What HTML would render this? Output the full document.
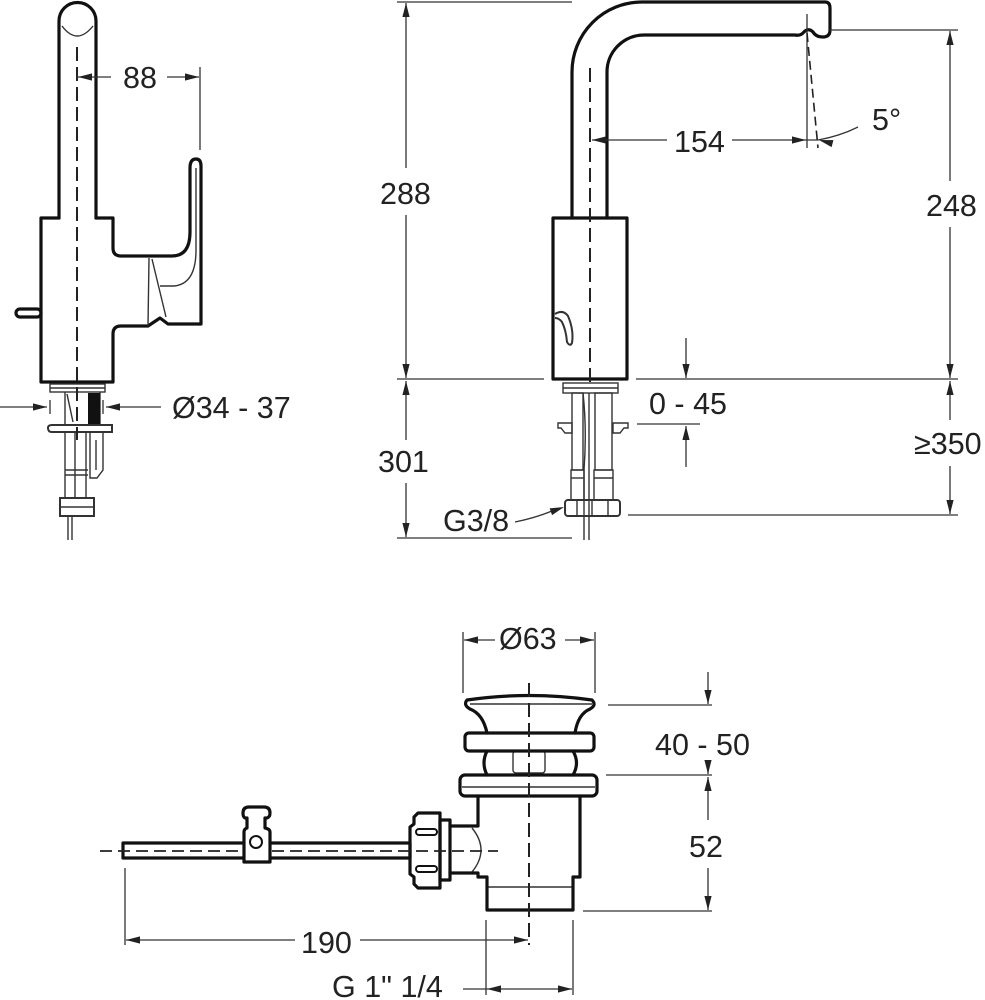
<!DOCTYPE html>
<html><head><meta charset="utf-8"><style>
html,body{margin:0;padding:0;background:#fff;}
svg{display:block;}
text{font-family:"Liberation Sans",Arial,sans-serif;font-size:30.5px;fill:#222;}
</style></head><body>
<svg width="985" height="1000" viewBox="0 0 985 1000" xmlns="http://www.w3.org/2000/svg" xmlns:xlink="http://www.w3.org/1999/xlink">
<defs>
<path id="ah" d="M0,0 L-14,-3.6 L-14,3.6 Z" fill="#222" stroke="none"/>
</defs>

<!-- ============ LEFT VIEW ============ -->
<g fill="none" stroke="#111" stroke-width="3.2" stroke-linejoin="round" stroke-linecap="round">
 <path d="M59,218 V21 A18.5,18.5 0 0 1 96,21 V218"/>
 <path d="M96,218 H113 V248 Q113,256 121,256 H172 Q190,256 190,232 V168 Q190,159 196,159 Q201,159 201,166 V324 H168 L160,318 L148,326 H121 Q113,326 113,334 V382 H41 V218 H59"/>
 <rect x="16" y="309" width="25" height="8" rx="4"/>
</g>
<g fill="none" stroke="#333" stroke-width="1.4">
 <path d="M62,26 Q77,46 93,26"/>
 <path d="M149,258 L148,326"/>
 <path d="M152,259 L166,317"/>
 <path d="M160,286 H174 Q196,284 196,250 V168"/>
 <rect x="50" y="384" width="55" height="8"/>
 <line x1="50" y1="388" x2="105" y2="388"/>
 <line x1="65" y1="392" x2="65" y2="425"/>
 <line x1="100" y1="392" x2="100" y2="425"/>
 <path d="M67,394 L73,422"/>
 <path d="M52,425 H112 V432 H52 Q48,432 48,428 Q48,425 52,425" stroke-width="2"/>
 <line x1="65" y1="432" x2="65" y2="498"/>
 <line x1="75" y1="432" x2="75" y2="498"/>
 <line x1="86" y1="432" x2="86" y2="498"/>
 <line x1="65" y1="470" x2="88" y2="470"/>
 <line x1="65" y1="475" x2="88" y2="475"/>
 <path d="M90,433 V478 H97 L103,470 V433 M96,440 V470"/>
 <rect x="60" y="498" width="34" height="18" stroke-width="2"/>
 <line x1="60" y1="507" x2="94" y2="507"/>
 <line x1="68" y1="516" x2="68" y2="540"/>
 <line x1="72" y1="516" x2="72" y2="540"/>
</g>
<rect x="88" y="393" width="12" height="31" fill="#111"/>
<line x1="77" y1="47" x2="77" y2="440" stroke="#222" stroke-width="2" stroke-dasharray="14,6"/>

<g stroke="#333" stroke-width="1.3">
 <line x1="77" y1="77" x2="111" y2="77"/>
 <line x1="167" y1="77" x2="199" y2="77"/>
 <line x1="200" y1="67" x2="200" y2="150"/>
 <line x1="0" y1="407" x2="47" y2="407"/>
 <line x1="106" y1="407" x2="161" y2="407"/>
 <line x1="50" y1="400" x2="50" y2="414"/>
 <line x1="103" y1="400" x2="103" y2="414"/>
</g>
<use xlink:href="#ah" transform="translate(78,77) rotate(180)"/>
<use xlink:href="#ah" transform="translate(199,77)"/>
<use xlink:href="#ah" transform="translate(47,407)"/>
<use xlink:href="#ah" transform="translate(106,407) rotate(180)"/>
<text x="123" y="88">88</text>
<text x="172" y="418">Ø34 - 37</text>

<!-- ============ MIDDLE VIEW ============ -->
<g fill="none" stroke="#111" stroke-width="3.2" stroke-linejoin="round" stroke-linecap="round">
 <path d="M572,218 V72 A70,70 0 0 1 642,2 H825 Q830,2 830,8 V30 Q830,37 823,37 Q816,37 813,32 Q808,27 803,33 Q800,36 795,35 H644 A37,37 0 0 0 607,72 V218"/>
 <rect x="553" y="218" width="74" height="161"/>
</g>
<g fill="none" stroke="#333" stroke-width="1.4">
 <path d="M555,314 Q563,309 568,316 Q574,330 572,343 Q570,347 567,342 Q566,330 562,322 Q559,318 555,318" stroke-width="2"/>
 <rect x="563" y="383" width="55" height="10"/>
 <line x1="563" y1="388" x2="618" y2="388"/>
 <rect x="572" y="393" width="11" height="77"/>
 <rect x="595" y="393" width="17" height="77"/>
 <rect x="571" y="470" width="13" height="30"/>
 <rect x="594" y="470" width="19" height="30"/>
 <line x1="571" y1="478" x2="584" y2="478"/>
 <line x1="594" y1="478" x2="613" y2="478"/>
 <path d="M583,393 Q587,430 584,470 V540 M589,393 V540"/>
 <path d="M558,423 H572 V433 H565 L561,428 H558 Z"/>
 <path d="M628,423 H613 V433 H620 L624,428 H628 Z"/>
 <rect x="565" y="500" width="55" height="16" rx="3" stroke-width="2"/>
 <line x1="577" y1="500" x2="577" y2="516"/>
 <line x1="592" y1="500" x2="592" y2="516"/>
 <line x1="608" y1="500" x2="608" y2="516"/>
</g>
<line x1="590" y1="68" x2="590" y2="385" stroke="#222" stroke-width="2" stroke-dasharray="14,6"/>

<g stroke="#333" stroke-width="1.3" fill="none">
 <line x1="397" y1="2" x2="572" y2="2"/>
 <line x1="406" y1="3" x2="406" y2="168"/>
 <line x1="406" y1="215" x2="406" y2="378"/>
 <line x1="397" y1="379" x2="544" y2="379"/>
 <line x1="636" y1="379" x2="958" y2="379"/>
 <line x1="406" y1="381" x2="406" y2="440"/>
 <line x1="406" y1="483" x2="406" y2="537"/>
 <line x1="397" y1="538" x2="572" y2="538"/>
 <line x1="592" y1="140" x2="667" y2="140"/>
 <line x1="732" y1="140" x2="818" y2="140"/>
 <line x1="807" y1="14" x2="807" y2="148"/>
 <path d="M858,127 Q840,136 818,140"/>
 <line x1="830" y1="30" x2="958" y2="30"/>
 <line x1="950" y1="31" x2="950" y2="181"/>
 <line x1="950" y1="227" x2="950" y2="378"/>
 <line x1="950" y1="381" x2="950" y2="420"/>
 <line x1="950" y1="466" x2="950" y2="514"/>
 <line x1="628" y1="515" x2="958" y2="515"/>
 <line x1="686" y1="338" x2="686" y2="378"/>
 <line x1="637" y1="424" x2="700" y2="424"/>
 <line x1="686" y1="426" x2="686" y2="467"/>
 <path d="M515,522 Q535,518 552,511"/>
</g>
<line x1="807" y1="33" x2="818" y2="148" stroke="#222" stroke-width="1.6" stroke-dasharray="9,5"/>
<use xlink:href="#ah" transform="translate(406,3) rotate(-90)"/>
<use xlink:href="#ah" transform="translate(406,378) rotate(90)"/>
<use xlink:href="#ah" transform="translate(406,381) rotate(-90)"/>
<use xlink:href="#ah" transform="translate(406,537) rotate(90)"/>
<use xlink:href="#ah" transform="translate(592,140) rotate(180)"/>
<use xlink:href="#ah" transform="translate(806,140)"/>
<use xlink:href="#ah" transform="translate(819,140) rotate(195)"/>
<use xlink:href="#ah" transform="translate(950,31) rotate(-90)"/>
<use xlink:href="#ah" transform="translate(950,378) rotate(90)"/>
<use xlink:href="#ah" transform="translate(950,381) rotate(-90)"/>
<use xlink:href="#ah" transform="translate(950,514) rotate(90)"/>
<use xlink:href="#ah" transform="translate(686,378) rotate(90)"/>
<use xlink:href="#ah" transform="translate(686,426) rotate(-90)"/>
<use xlink:href="#ah" transform="translate(564,507) rotate(-20)"/>
<text x="380" y="204">288</text>
<text x="378" y="472">301</text>
<text x="674" y="152">154</text>
<text x="872" y="130">5°</text>
<text x="926" y="216">248</text>
<text x="914" y="454">≥350</text>
<text x="649" y="414">0 - 45</text>
<text x="443" y="531">G3/8</text>

<!-- ============ WASTE VIEW ============ -->
<g fill="none" stroke="#333" stroke-width="1.4">
 <line x1="470" y1="704" x2="592" y2="704"/>
 <rect x="513" y="751" width="32" height="22" rx="3"/>
 <line x1="462" y1="787" x2="595" y2="787"/>
 <line x1="487" y1="887" x2="573" y2="887"/>
 <path d="M472,828 Q490,850 472,872"/>
</g>
<g fill="none" stroke="#111" stroke-width="3.2" stroke-linejoin="round" stroke-linecap="round">
 <path d="M470,709 Q463,705 467,700 Q529,691 592,700 Q597,705 590,709 Q578,714 575,733"/>
 <path d="M470,709 Q483,714 487,733"/>
 <rect x="465" y="733" width="129" height="18" rx="4"/>
 <path d="M487,751 Q481,763 487,775 M573,751 Q580,763 573,775"/>
 <rect x="460" y="775" width="137" height="21" rx="5"/>
 <path d="M478,796 V826 H450 M450,873 H478 V877 H487 V910 H573 V877 H580 V796"/>
 <rect x="440" y="820" width="10" height="60"/>
 <path d="M418,813 H440 V888 H418 L414,884 V877 L410,874 V827 L414,824 V817 Z"/>
 <rect x="416" y="829" width="21" height="6" rx="3" stroke-width="2"/>
 <rect x="416" y="866" width="21" height="6" rx="3" stroke-width="2"/>
 <rect x="123" y="843" width="287" height="15"/>
 <path d="M244,862 V832 Q244,829 247,828 V818 H245 Q243,817 243,813 Q243,807 249,807 H264 Q270,807 270,813 Q270,817 267,818 H265 V828 Q270,829 270,832 V862 Z" fill="#fff"/>
 <circle cx="256" cy="842" r="6" stroke-width="2"/>
</g>
<line x1="100" y1="851" x2="240" y2="851" stroke="#222" stroke-width="1.8" stroke-dasharray="12,6"/>
<line x1="272" y1="851" x2="498" y2="851" stroke="#222" stroke-width="1.8" stroke-dasharray="12,6"/>
<line x1="529" y1="683" x2="529" y2="945" stroke="#222" stroke-width="2" stroke-dasharray="14,6"/>

<g stroke="#333" stroke-width="1.3" fill="none">
 <line x1="463" y1="632" x2="463" y2="693"/>
 <line x1="595" y1="632" x2="595" y2="693"/>
 <line x1="464" y1="640" x2="495" y2="640"/>
 <line x1="565" y1="640" x2="594" y2="640"/>
 <line x1="608" y1="705" x2="712" y2="705"/>
 <line x1="606" y1="775" x2="712" y2="775"/>
 <line x1="583" y1="911" x2="712" y2="911"/>
 <line x1="708" y1="672" x2="708" y2="704"/>
 <line x1="708" y1="762" x2="708" y2="774"/>
 <line x1="708" y1="777" x2="708" y2="820"/>
 <line x1="708" y1="868" x2="708" y2="910"/>
 <line x1="125" y1="868" x2="125" y2="945"/>
 <line x1="126" y1="940" x2="295" y2="940"/>
 <line x1="360" y1="940" x2="528" y2="940"/>
 <line x1="486" y1="920" x2="486" y2="995"/>
 <line x1="573" y1="920" x2="573" y2="995"/>
 <line x1="463" y1="989" x2="572" y2="989"/>
</g>
<use xlink:href="#ah" transform="translate(464,640) rotate(180)"/>
<use xlink:href="#ah" transform="translate(594,640)"/>
<use xlink:href="#ah" transform="translate(708,704) rotate(90)"/>
<use xlink:href="#ah" transform="translate(708,774) rotate(90)"/>
<use xlink:href="#ah" transform="translate(708,777) rotate(-90)"/>
<use xlink:href="#ah" transform="translate(708,910) rotate(90)"/>
<use xlink:href="#ah" transform="translate(126,940) rotate(180)"/>
<use xlink:href="#ah" transform="translate(528,940)"/>
<use xlink:href="#ah" transform="translate(487,989) rotate(180)"/>
<use xlink:href="#ah" transform="translate(572,989)"/>
<text x="499" y="649">Ø63</text>
<text x="655" y="755">40 - 50</text>
<text x="689" y="857">52</text>
<text x="301" y="953">190</text>
<text x="332" y="997">G 1" 1/4</text>
</svg>
</body></html>
